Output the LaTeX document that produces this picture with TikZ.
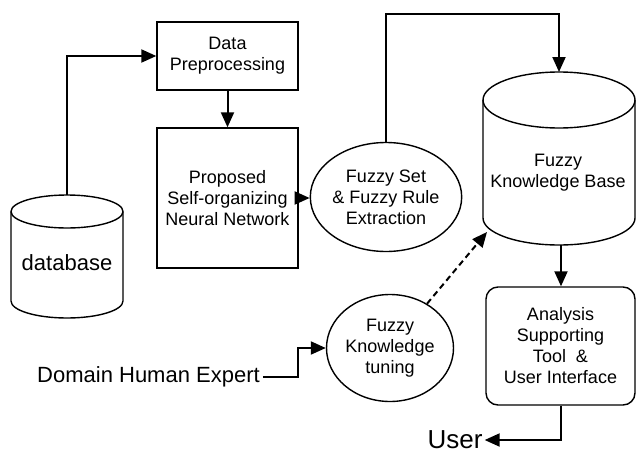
\documentclass[tikz,border=0pt]{standalone}
\usepackage{fontspec}
\setmainfont{Liberation Sans}
\usetikzlibrary{arrows.meta,shapes.geometric}
\begin{document}
\begin{tikzpicture}[x=1pt,y=-1pt,
  lbl/.style={font=\fontsize{18}{21}\selectfont, align=center},
  shapeline/.style={line width=1.4pt},
  boxnode/.style={draw, shapeline, lbl, inner sep=0pt},
  ell/.style={draw, ellipse, shapeline, lbl, inner sep=0pt},
  conn/.style={line width=2pt, -{Triangle[length=15pt,width=13pt]}},
  ]
\useasboundingbox (0,0) rectangle (636,455);
% boxes
\node[boxnode, minimum width=141pt, minimum height=68pt] (dp) at (227.5,56) {Data\\Preprocessing};
\node[boxnode, minimum width=141pt, minimum height=140pt] (pnn) at (227.5,198) {Proposed\\Self-organizing\\Neural Network};
\node[ell, minimum width=123pt, minimum height=109pt] (fs) at (386,197) {Fuzzy Set\\\& Fuzzy Rule\\Extraction};
\node[ell, minimum width=127pt, minimum height=107pt] (tune) at (390,348) {Fuzzy\\Knowledge\\tuning};
\node[boxnode, rounded corners=12pt, minimum width=149pt, minimum height=118pt] (an) at (560.5,346) {Analysis\\Supporting\\Tool\ \ \&\\User Interface};
% database cylinder
\draw[shapeline] (67,211.5) ellipse [x radius=56, y radius=16.5];
\draw[shapeline] (11,211.5) -- (11,301) arc[start angle=180, end angle=0, x radius=56, y radius=17] -- (123,211.5);
\node[font=\fontsize{22}{26}\selectfont] (db) at (67,263) {database};
\coordinate (dbtop) at (67,195);
% fuzzy knowledge base cylinder
\draw[shapeline] (559,100) ellipse [x radius=76, y radius=28];
\draw[shapeline] (483,100) -- (483,218) arc[start angle=180, end angle=0, x radius=76, y radius=27] -- (635,100);
\node[lbl] (kb) at (558,173) {Fuzzy\\Knowledge Base};
\coordinate (kbtop) at (559,72);
\coordinate (kbbot) at (561,245);
\coordinate (kbdash) at (487,232);
% texts
\node[font=\fontsize{22}{26}\selectfont, inner sep=3pt] (dhe) at (148.5,377) {Domain Human Expert};
\node[font=\fontsize{26}{30}\selectfont, inner sep=2pt] (user) at (455,440) {User};
\coordinate (bend) at (298,377);
% connectors
\draw[conn] (dbtop) |- (dp.west);
\draw[conn] (dp) -- (pnn);
\draw[conn] (pnn.east) -- (pnn.east -| fs.west);
\draw[conn] (fs.north) -- (fs.north |- 0,14) -| (kbtop);
\draw[conn] (kbbot) -- (kbbot |- an.north);
\draw[conn] (an.south) |- (user.east);
\draw[conn] (dhe.east) -- (bend) |- (tune.west);
\draw[conn, dash pattern=on 6pt off 4pt] (tune) -- (kbdash);
\end{tikzpicture}
\end{document}
